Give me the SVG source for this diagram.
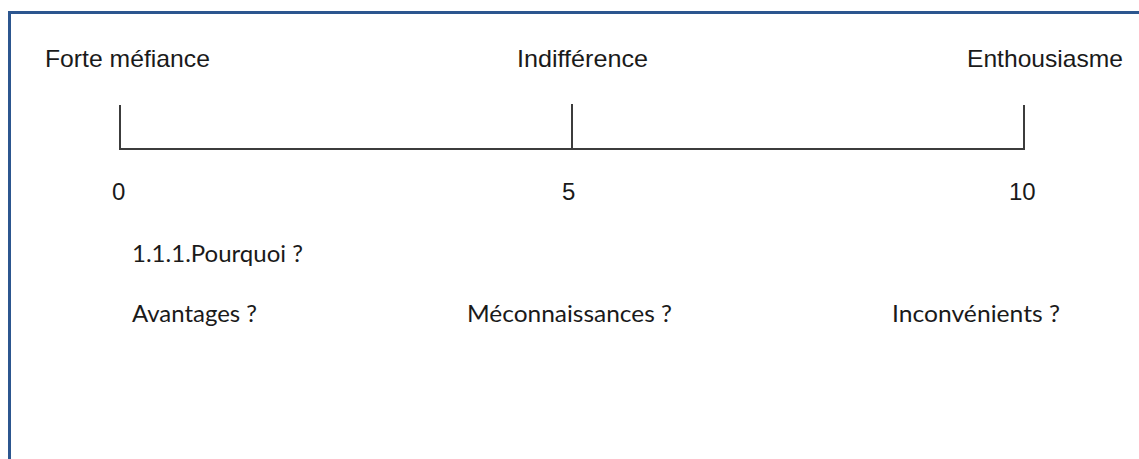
<svg xmlns="http://www.w3.org/2000/svg" width="1139" height="459" viewBox="0 0 1139 459">
  <style>
    .a { font-family: "Liberation Sans", Arial, sans-serif; font-size: 24px; fill: #1a1a1a; }
    .c { font-family: Lato, "Open Sans", sans-serif; font-size: 23px; fill: #1a1a1a; }
    .ax { stroke: #3c3c3c; stroke-width: 2; fill: none; }
  </style>
  <rect x="0" y="0" width="1139" height="459" fill="#ffffff"/>
  <rect id="frame" x="9.5" y="12.5" width="1160" height="480" fill="none" stroke="#2c568f" stroke-width="3"/>
  <g id="connectors">
    <path class="ax" d="M120 105 V149 H1024 V105"/>
    <path class="ax" d="M572 104 V149"/>
  </g>
  <g id="label-forte"><text class="a" x="45" y="67" textLength="165" lengthAdjust="spacingAndGlyphs">Forte méfiance</text></g>
  <g id="label-indifference"><text class="a" x="517" y="67" textLength="131" lengthAdjust="spacingAndGlyphs">Indifférence</text></g>
  <g id="label-enthousiasme"><text class="a" x="967" y="67" textLength="156" lengthAdjust="spacingAndGlyphs">Enthousiasme</text></g>
  <g id="num-0"><text class="a" x="112" y="200">0</text></g>
  <g id="num-5"><text class="a" x="562" y="200">5</text></g>
  <g id="num-10"><text class="a" x="1009" y="200">10</text></g>
  <g id="label-pourquoi"><text class="c" x="132" y="262" textLength="171" lengthAdjust="spacingAndGlyphs">1.1.1.Pourquoi ?</text></g>
  <g id="label-avantages"><text class="c" x="132" y="322" textLength="125" lengthAdjust="spacingAndGlyphs">Avantages ?</text></g>
  <g id="label-meconnaissances"><text class="c" x="467" y="322" textLength="205" lengthAdjust="spacingAndGlyphs">Méconnaissances ?</text></g>
  <g id="label-inconvenients"><text class="c" x="892" y="322" textLength="168" lengthAdjust="spacingAndGlyphs">Inconvénients ?</text></g>
</svg>
